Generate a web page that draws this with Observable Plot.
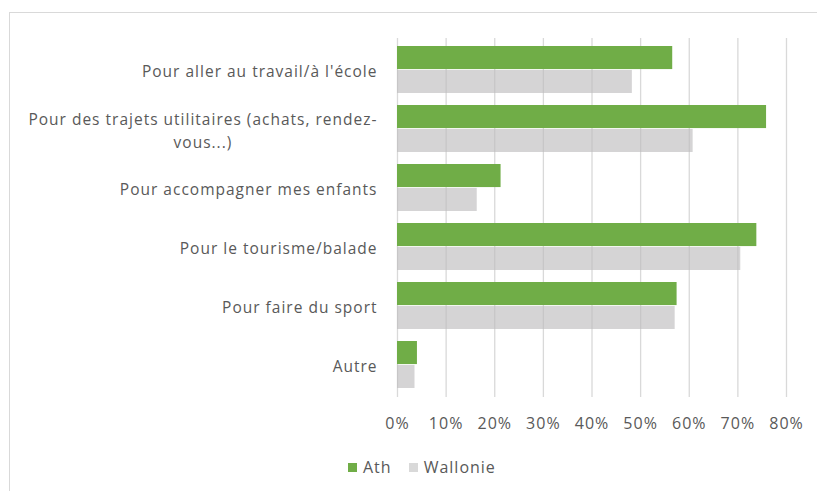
<!DOCTYPE html>
<html>
<head>
<meta charset="utf-8">
<script src="https://cdn.jsdelivr.net/npm/d3@7"></script>
<script src="https://cdn.jsdelivr.net/npm/@observablehq/plot@0.6"></script>
<style>
  html, body { margin: 0; padding: 0; background: #fff; }
  #wrap { position: relative; width: 817px; height: 491px; overflow: hidden; font-family: "Open Sans", sans-serif; letter-spacing: 1px; }
  #frame { position: absolute; left: 9px; top: 12px; width: 900px; height: 600px; border: 1px solid #D9D9D9; box-sizing: border-box; }
  #chart { position: absolute; left: 0; top: 0; }
  #legend { position: absolute; left: 348px; top: 456px; display: flex; align-items: center; font-size: 16px; color: #595959; }
  #legend .sw { width: 9px; height: 9px; display: inline-block; margin-right: 6px; }
  #legend .item { display: flex; align-items: center; margin-right: 17px; }
</style>
</head>
<body>
<div id="wrap">
  <div id="frame"></div>
  <div id="chart"></div>
  <div id="legend"></div>
</div>
<script>
const categories = [
  "Pour aller au travail/à l'école",
  "Pour des trajets utilitaires (achats, rendez-\nvous...)",
  "Pour accompagner mes enfants",
  "Pour le tourisme/balade",
  "Pour faire du sport",
  "Autre"
];
const series = ["Ath", "Wallonie"];
const ath = [56.6, 75.9, 21.3, 73.9, 57.5, 4.1];
const wallonie = [48.3, 60.8, 16.4, 70.6, 57.1, 3.6];
const xTicks = [0, 10, 20, 30, 40, 50, 60, 70, 80];
const colors = ["#70AD47", "#BDBBBD"];

const W = 817, H = 440, mT = 38, mB = 43, mL = 397, mR = 31;
const padIn = 0.2, padOut = 0.1;
const bw = d3.scaleBand().domain(categories).range([mT, H - mB])
  .paddingInner(padIn).paddingOuter(padOut).bandwidth();
const half = bw / 2;

const dataAth = categories.map((c, i) => ({cat: c, v: ath[i]}));
const dataWal = categories.map((c, i) => ({cat: c, v: wallonie[i]}));

const plot = Plot.plot({
  width: W, height: H,
  marginTop: mT, marginBottom: mB, marginLeft: mL, marginRight: mR,
  style: {fontFamily: "'Open Sans', sans-serif", color: "#595959", background: "transparent", letterSpacing: "1px"},
  x: {domain: [0, 80], ticks: xTicks, label: null},
  y: {domain: categories, paddingInner: padIn, paddingOuter: padOut, label: null},
  marks: [
    Plot.gridX(xTicks, {stroke: "#D9D9D9", strokeOpacity: 1, strokeWidth: 1.3}),
    Plot.barX(dataWal, {x: "v", y: "cat", fill: colors[1], fillOpacity: 0.63, insetTop: half, insetBottom: 0}),
    Plot.barX(dataAth, {x: "v", y: "cat", fill: colors[0], insetBottom: half, insetTop: 0}),
    Plot.axisX(xTicks, {tickSize: 0, tickPadding: 20, fontSize: 16, tickFormat: d => d + "%", fill: "#595959", label: null}),
    Plot.axisY({tickSize: 0, tickPadding: 20, fontSize: 15.5, fill: "#595959", lineHeight: 1.5, label: null})
  ]
});
document.getElementById("chart").appendChild(plot);

// center wrapped (multi-line) y labels within their own block, as in the original
plot.querySelectorAll("[aria-label='y-axis tick label'] text").forEach(t => {
  const spans = t.querySelectorAll("tspan");
  if (spans.length > 1) {
    const w = t.getBBox().width;
    t.setAttribute("text-anchor", "middle");
    spans.forEach(s => s.setAttribute("x", -w / 2));
  }
});

const legend = document.getElementById("legend");
series.forEach((s, i) => {
  const item = document.createElement("span");
  item.className = "item";
  const sw = document.createElement("span");
  sw.className = "sw";
  sw.style.background = i === 0 ? colors[0] : "#D9D9D9";
  item.appendChild(sw);
  item.appendChild(document.createTextNode(s));
  legend.appendChild(item);
});
</script>
</body>
</html>
